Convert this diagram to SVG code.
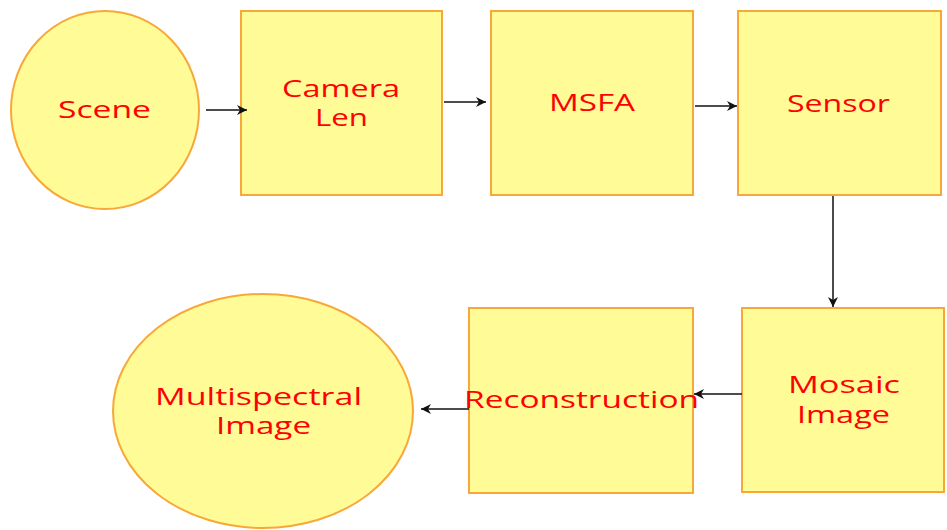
<svg xmlns="http://www.w3.org/2000/svg" width="947" height="530" viewBox="0 0 947 530">
<defs>
<style>
.n{fill:#FFFB97;stroke:#F8A838;stroke-width:2}
.t{font-family:"Open Sans","DejaVu Sans",sans-serif;font-size:23px;fill:#FF0000}
.c{stroke:#111;stroke-width:1.5;fill:none;marker-end:url(#ah)}
</style>
<marker id="ah" viewBox="0 0 10 10" refX="10" refY="5" markerWidth="10" markerHeight="10" markerUnits="userSpaceOnUse" orient="auto">
<path d="M0,0 L10,5 L0,10 L3,5 Z" fill="#111"/>
</marker>
</defs>
<rect width="947" height="530" fill="#fff"/>
<g id="scene"><ellipse class="n" cx="105" cy="110" rx="94" ry="99"/><text class="t" x="58" y="118" textLength="93" lengthAdjust="spacingAndGlyphs">Scene</text></g>
<g id="camera"><rect class="n" x="241" y="11" width="201" height="184"/><text class="t" x="282" y="97" textLength="118" lengthAdjust="spacingAndGlyphs">Camera</text><text class="t" x="315" y="126" textLength="53" lengthAdjust="spacingAndGlyphs">Len</text></g>
<g id="msfa"><rect class="n" x="491" y="11" width="202" height="184"/><text class="t" x="549" y="111" textLength="86" lengthAdjust="spacingAndGlyphs">MSFA</text></g>
<g id="sensor"><rect class="n" x="738" y="11" width="203" height="184"/><text class="t" x="787" y="112" textLength="103" lengthAdjust="spacingAndGlyphs">Sensor</text></g>
<g id="mosaic"><rect class="n" x="742" y="308" width="202" height="184"/><text class="t" x="788" y="393" textLength="112" lengthAdjust="spacingAndGlyphs">Mosaic</text><text class="t" x="797" y="423" textLength="93" lengthAdjust="spacingAndGlyphs">Image</text></g>
<g id="reconstruction"><rect class="n" x="469" y="308" width="224" height="185"/><text class="t" x="464" y="408" textLength="235" lengthAdjust="spacingAndGlyphs">Reconstruction</text></g>
<g id="multispectral"><ellipse class="n" cx="263" cy="411" rx="150" ry="117"/><text class="t" x="155" y="405" textLength="207" lengthAdjust="spacingAndGlyphs">Multispectral</text><text class="t" x="216" y="434" textLength="95" lengthAdjust="spacingAndGlyphs">Image</text></g>
<g id="connectors">
<line class="c" x1="206" y1="110" x2="247" y2="110"/>
<line class="c" x1="444" y1="102" x2="486" y2="102"/>
<line class="c" x1="695" y1="106" x2="737" y2="106"/>
<line class="c" x1="833" y1="196" x2="833" y2="307"/>
<line class="c" x1="742" y1="394" x2="694" y2="394"/>
<line class="c" x1="469" y1="409" x2="421" y2="409"/>
</g>
</svg>
